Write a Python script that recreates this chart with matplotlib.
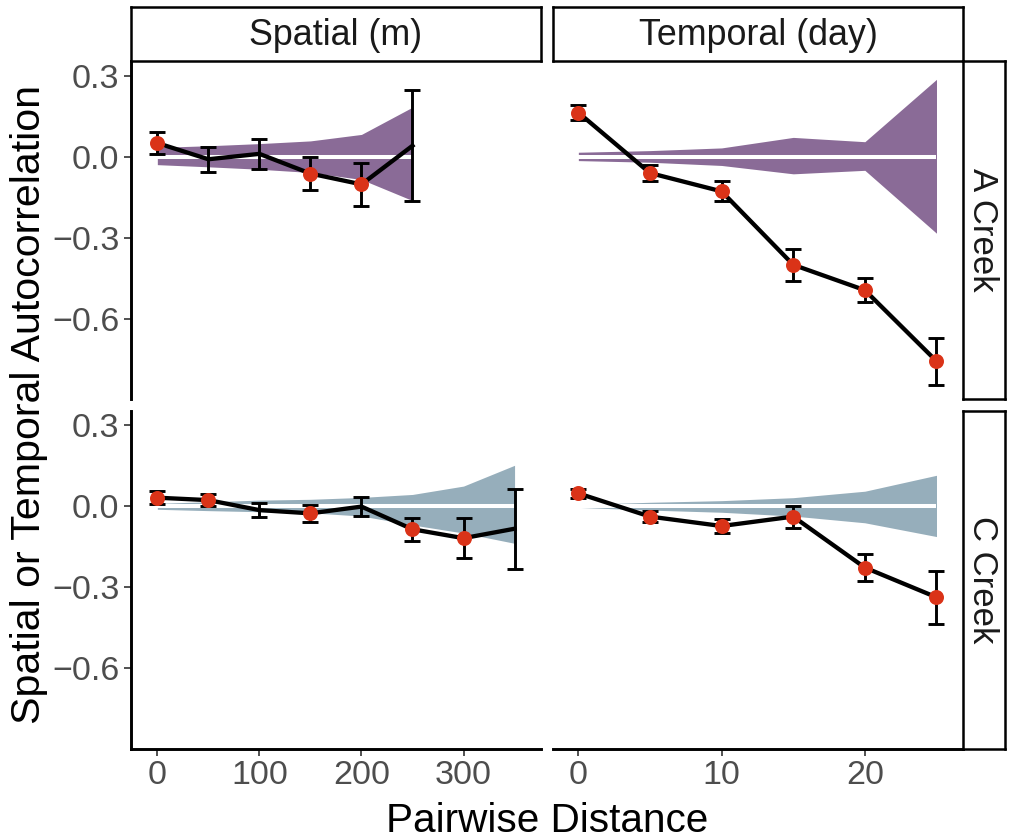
import matplotlib
matplotlib.use("Agg")
import matplotlib.pyplot as plt
import numpy as np

plt.rcParams['font.family'] = ['Liberation Sans', 'DejaVu Sans']

# ---- A Creek, spatial lags (m) ----
a_spatial_dist = [0, 50, 100, 150, 200, 250]
a_spatial_mean = [0.05, -0.01, 0.01, -0.063, -0.103, 0.04]
a_spatial_se = [0.04, 0.047, 0.055, 0.062, 0.08, 0.205]
a_spatial_env_hi = [0.034, 0.04, 0.048, 0.058, 0.082, 0.183]
a_spatial_env_lo = [-0.03, -0.038, -0.047, -0.059, -0.085, -0.163]
a_spatial_sig = [True, False, False, True, True, False]

# ---- A Creek, temporal lags (day) ----
a_temporal_dist = [0, 5, 10, 15, 20, 25]
a_temporal_mean = [0.163, -0.061, -0.129, -0.401, -0.495, -0.758]
a_temporal_se = [0.027, 0.03, 0.037, 0.06, 0.045, 0.087]
a_temporal_env_hi = [0.016, 0.022, 0.032, 0.071, 0.055, 0.286]
a_temporal_env_lo = [-0.015, -0.021, -0.033, -0.064, -0.051, -0.284]
a_temporal_sig = [True, True, True, True, True, True]

# ---- C Creek, spatial lags (m) ----
c_spatial_dist = [0, 50, 100, 150, 200, 250, 300, 350]
c_spatial_mean = [0.031, 0.022, -0.015, -0.027, -0.002, -0.086, -0.119, -0.084]
c_spatial_se = [0.024, 0.023, 0.027, 0.031, 0.035, 0.043, 0.074, 0.148]
c_spatial_env_hi = [0.01, 0.016, 0.022, 0.025, 0.032, 0.043, 0.074, 0.151]
c_spatial_env_lo = [-0.012, -0.017, -0.021, -0.025, -0.037, -0.07, -0.1, -0.138]
c_spatial_sig = [True, True, False, True, False, True, True, False]

# ---- C Creek, temporal lags (day) ----
c_temporal_dist = [0, 5, 10, 15, 20, 25]
c_temporal_mean = [0.047, -0.039, -0.074, -0.039, -0.228, -0.338]
c_temporal_se = [0.017, 0.02, 0.025, 0.041, 0.051, 0.098]
c_temporal_env_hi = [0.006, 0.014, 0.02, 0.031, 0.055, 0.114]
c_temporal_env_lo = [-0.005, -0.015, -0.023, -0.037, -0.062, -0.113]
c_temporal_sig = [True, True, True, True, True, True]

col_labels = ["Spatial (m)", "Temporal (day)"]
row_labels = ["A Creek", "C Creek"]
y_ticks = [0.3, 0.0, -0.3, -0.6]
spatial_ticks = [0, 100, 200, 300]
temporal_ticks = [0, 10, 20]

panels = {
    (0, 0): (a_spatial_dist, a_spatial_mean, a_spatial_se, a_spatial_env_lo, a_spatial_env_hi, a_spatial_sig),
    (0, 1): (a_temporal_dist, a_temporal_mean, a_temporal_se, a_temporal_env_lo, a_temporal_env_hi, a_temporal_sig),
    (1, 0): (c_spatial_dist, c_spatial_mean, c_spatial_se, c_spatial_env_lo, c_spatial_env_hi, c_spatial_sig),
    (1, 1): (c_temporal_dist, c_temporal_mean, c_temporal_se, c_temporal_env_lo, c_temporal_env_hi, c_temporal_sig),
}
row_fill = ["#8A6B97", "#96AEBB"]
point_color = "#DA3318"

W, H = 1010, 838
fig = plt.figure(figsize=(W / 100, H / 100), dpi=100)


def box(x0, y0, x1, y1):
    return [x0 / W, 1 - y1 / H, (x1 - x0) / W, (y1 - y0) / H]


col_x = [(131, 541), (553, 963)]
row_y = [(61, 399.5), (410.5, 749)]
xlims = [(-25.8, 375.9), (-1.77, 26.85)]
xticks = [spatial_ticks, temporal_ticks]
ylim = (-0.9, 0.354)

tick_color = "#333333"
label_color = "#4D4D4D"

for (r, c), (x, m, se, lo, hi, sig) in panels.items():
    x0, x1 = col_x[c]
    y0, y1 = row_y[r]
    ax = fig.add_axes(box(x0, y0, x1, y1))
    x = np.asarray(x, float)
    m = np.asarray(m, float)
    se = np.asarray(se, float)
    sig = np.asarray(sig, bool)

    ax.fill_between(x, lo, hi, color=row_fill[r], lw=0, zorder=1)
    ax.plot([x[0], x[-1]], [0, 0], color="white", lw=2.9, zorder=2,
            solid_capstyle="butt")
    ax.errorbar(x, m, yerr=se, fmt="none", ecolor="black", elinewidth=2.1,
                capsize=5.8, capthick=2.1, zorder=3)
    ax.plot(x, m, color="black", lw=3.1, zorder=4, solid_joinstyle="round")
    ax.plot(x[sig], m[sig], "o", color=point_color, ms=10.8, mec="none", zorder=5)

    ax.set_xlim(*xlims[c])
    ax.set_ylim(*ylim)
    ax.set_xticks(xticks[c])
    ax.set_yticks(y_ticks)
    ax.set_yticklabels(["0.3", "0.0", "\u22120.3", "\u22120.6"])

    for s in ["top", "right"]:
        ax.spines[s].set_visible(False)
    ax.spines["left"].set_visible(c == 0)
    ax.spines["bottom"].set_visible(r == 1)
    for s in ["left", "bottom"]:
        ax.spines[s].set_linewidth(2.1)
        ax.spines[s].set_color("black")

    ax.tick_params(axis="both", length=5, width=1.2, color=tick_color,
                   labelcolor=label_color, labelsize=24.5, pad=3.2)
    ax.tick_params(axis="y", left=(c == 0), labelleft=(c == 0))
    ax.tick_params(axis="x", bottom=(r == 1), labelbottom=(r == 1))
    ax.patch.set_alpha(0)

# column strips
for c, lab in enumerate(col_labels):
    x0, x1 = col_x[c]
    sax = fig.add_axes(box(x0, 7, x1, 61))
    sax.set_xticks([])
    sax.set_yticks([])
    sax.set_facecolor("white")
    for s in sax.spines.values():
        s.set_linewidth(1.8)
        s.set_color("black")
    sax.text(0.5, 0.47, lab, ha="center", va="center", fontsize=25.8,
             color="#1A1A1A", transform=sax.transAxes)

# row strips
for r, lab in enumerate(row_labels):
    y0, y1 = row_y[r]
    sax = fig.add_axes(box(963, y0, 1005, y1))
    sax.set_xticks([])
    sax.set_yticks([])
    sax.set_facecolor("white")
    for s in sax.spines.values():
        s.set_linewidth(1.8)
        s.set_color("black")
    sax.text(0.47, 0.5, lab, ha="center", va="center", fontsize=25.0,
             rotation=-90, color="#1A1A1A", transform=sax.transAxes)

fig.text(29 / W, 1 - 405 / H, "Spatial or Temporal Autocorrelation",
         rotation=90, ha="center", va="center", fontsize=29.6, color="black")
fig.text(547 / W, 1 - 832 / H, "Pairwise Distance", ha="center",
         va="baseline", fontsize=29.2, color="black")

fig.savefig("out.png", dpi=100, facecolor="white")
